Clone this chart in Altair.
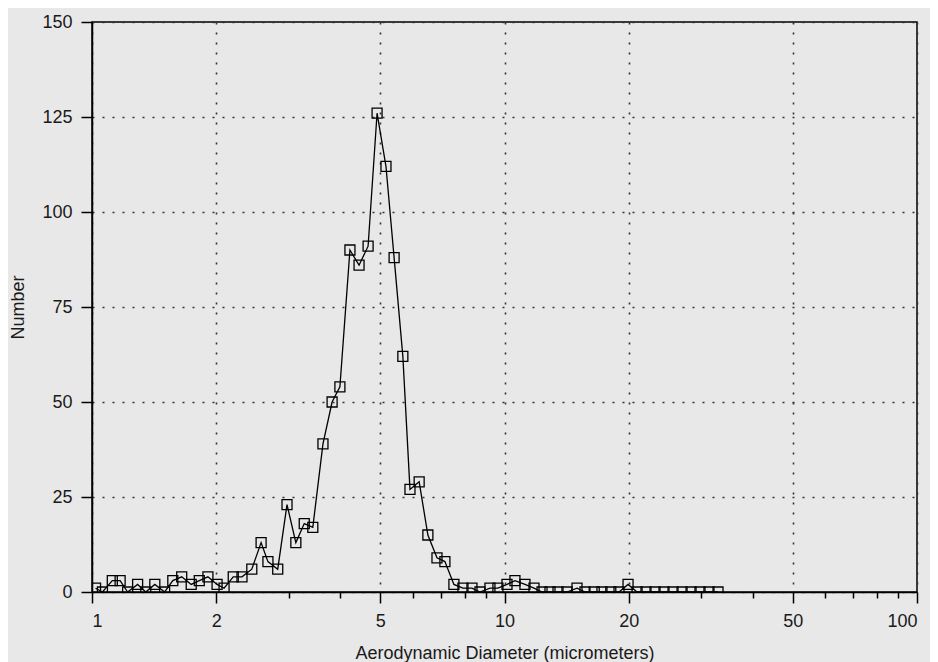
import altair as alt
import pandas as pd

# Aerodynamic diameter (micrometers)
diameter = [1.02, 1.06, 1.12, 1.17, 1.22, 1.29, 1.35, 1.42, 1.50, 1.57,
            1.65, 1.74, 1.82, 1.91, 2.01, 2.09, 2.20, 2.31, 2.44, 2.57,
            2.67, 2.82, 2.97, 3.12, 3.27, 3.43, 3.63, 3.82, 3.99, 4.22,
            4.44, 4.67, 4.91, 5.16, 5.40, 5.67, 5.90, 6.21, 6.52, 6.86,
            7.17, 7.54, 7.93, 8.34, 8.72, 9.22, 9.64, 10.14, 10.60, 11.21,
            11.79, 12.33, 12.89, 13.48, 14.17, 14.99, 15.67, 16.50, 17.23, 18.10,
            18.95, 19.93, 20.96, 22.03, 23.17, 24.36, 25.62, 26.94, 28.33, 29.78,
            31.31, 32.93]
# Number of particles
count = [1, 0, 3, 3, 0, 2, 0, 2, 0, 3,
         4, 2, 3, 4, 2, 1, 4, 4, 6, 13,
         8, 6, 23, 13, 18, 17, 39, 50, 54, 90,
         86, 91, 126, 112, 88, 62, 27, 29, 15, 9,
         8, 2, 1, 1, 0, 1, 1, 2, 3, 2,
         1, 0, 0, 0, 0, 1, 0, 0, 0, 0,
         0, 2, 0, 0, 0, 0, 0, 0, 0, 0,
         0, 0]

x_major = [1, 2, 5, 10, 20, 50, 100]
x_minor = [3, 4, 6, 7, 8, 9, 30, 40, 60, 70, 80, 90]
y_ticks = [0, 25, 50, 75, 100, 125, 150]

df = pd.DataFrame({"d": diameter, "n": count})

FONT = "Liberation Sans, Arial, sans-serif"
xscale = alt.Scale(type="log", domain=[1, 100], nice=False)
yscale = alt.Scale(domain=[0, 150], nice=False)

base = alt.Chart(df)

line = base.mark_line(color="black", strokeWidth=1.3, clip=True).encode(
    x=alt.X("d:Q", scale=xscale,
            axis=alt.Axis(values=x_major, format="~g", orient="bottom",
                          title="Aerodynamic Diameter (micrometers)",
                          tickSize=11, labelPadding=9, titlePadding=14,
                          grid=True, gridDash=[2, 8], gridColor="#333",
                          gridWidth=1.6)),
    y=alt.Y("n:Q", scale=yscale,
            axis=alt.Axis(values=y_ticks, title="Number", tickSize=11,
                          labelPadding=9, titlePadding=14,
                          grid=True, gridDash=[2, 8], gridColor="#333",
                          gridWidth=1.6)),
)

points = base.mark_point(shape="square", filled=False, color="black",
                         size=100, strokeWidth=1.3, opacity=1, clip=True).encode(
    x=alt.X("d:Q", scale=xscale,
            axis=alt.Axis(values=x_minor, labels=False, title=None, orient="bottom",
                          tickSize=6, grid=False, domain=False)),
    y=alt.Y("n:Q", scale=yscale, axis=None),
)

chart = (
    alt.layer(line, points)
    .resolve_axis(x="independent", y="independent")
    .properties(
        width=825, height=570,
        autosize="none",
        padding={"left": 84, "top": 14, "right": 13, "bottom": 72},
        background="#e8e8e8",
    )
    .configure_view(stroke="black", strokeWidth=1.5, fill="#e8e8e8")
    .configure_axis(
        domainColor="black", domainWidth=1.5, tickColor="black", tickWidth=1.5,
        labelFont=FONT, labelFontSize=18, labelColor="#1a1a1a",
        titleFont=FONT, titleFontSize=18, titleFontWeight="normal", titleColor="#1a1a1a",
    )
)

chart.save("out.html", embed_options={"renderer": "svg", "actions": False})
